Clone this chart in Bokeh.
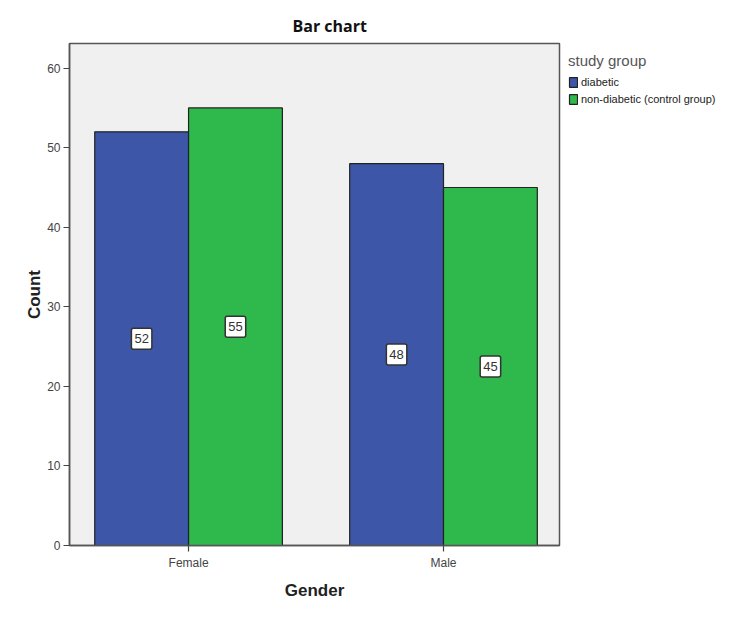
import pandas as pd
from bokeh.plotting import figure
from bokeh.models import ColumnDataSource, Range1d, FixedTicker, Legend, LegendItem
from bokeh.core.properties import value
from bokeh.embed import file_html
from bokeh.resources import INLINE

categories = ["Female", "Male"]
groups = ["diabetic", "non-diabetic (control group)"]
diabetic = [52, 48]
non_diabetic = [55, 45]
colors = ["#3d56a8", "#2fb84b"]
y_ticks = [0, 10, 20, 30, 40, 50, 60]

offset = 0.184
bar_w = 0.368

p = figure(frame_width=490, frame_height=502, output_backend="svg", toolbar_location=None,
           x_range=Range1d(-0.467, 1.455), y_range=Range1d(0, 63.1),
           min_border_left=69, min_border_right=10, min_border_top=43, min_border_bottom=60)
p.background_fill_color = "#f0f0f0"
p.border_fill_color = "white"
p.outline_line_color = "#555555"
p.outline_line_width = 1.5
p.grid.visible = False

p.title.text = "Bar chart"
p.title.align = "left"
p.title.text_font = "Open Sans"
p.title.text_font_style = "bold"
p.title.text_font_size = "16px"
p.title.text_color = "#111111"
p.title.offset = 223
p.title.standoff = 13

renderers = []
for k, (vals, col) in enumerate(zip([diabetic, non_diabetic], colors)):
    xs = [i + (offset if k == 1 else -offset) for i in range(len(categories))]
    src = ColumnDataSource(dict(x=xs, top=vals, mid=[v / 2 for v in vals], lbl=[str(v) for v in vals]))
    r = p.vbar(x="x", top="top", width=bar_w, source=src, fill_color=col,
               line_color="#222222", line_width=1.2)
    renderers.append(r)
    p.text(x="x", y="mid", text="lbl", source=src, text_align="center",
           text_baseline="middle", text_font=value("Liberation Sans"), text_font_size="13px",
           text_color="#333333", background_fill_color="white",
           border_line_color="#333333", border_line_width=1.5, padding=(3, 6), border_radius=2)

p.xaxis.ticker = FixedTicker(ticks=list(range(len(categories))))
p.xaxis.major_label_overrides = {i: c for i, c in enumerate(categories)}
p.yaxis.ticker = FixedTicker(ticks=y_ticks)
for ax in [p.xaxis, p.yaxis]:
    ax.axis_line_color = "#555555"
    ax.axis_line_width = 1.5
    ax.major_tick_line_color = "#444444"
    ax.major_tick_line_width = 1.2
    ax.major_tick_out = 6
    ax.major_tick_in = 0
    ax.minor_tick_line_color = None
    ax.major_label_text_font = "Liberation Sans"
    ax.major_label_text_font_size = "12px"
    ax.major_label_text_color = "#444444"
    ax.axis_label_text_font = "Liberation Sans"
    ax.axis_label_text_font_style = "bold"
    ax.axis_label_text_font_size = "17px"
    ax.axis_label_text_color = "#222222"
p.xaxis.axis_label = "Gender"
p.yaxis.axis_label = "Count"
p.yaxis.axis_label_standoff = 0
p.xaxis.axis_label_standoff = 8
p.xaxis.major_label_standoff = 4
p.yaxis.major_label_standoff = 3

legend = Legend(items=[LegendItem(label=g, renderers=[r]) for g, r in zip(groups, renderers)],
                location="top_left", title="study group")
legend.title_text_font = "Liberation Sans"
legend.title_text_font_size = "15px"
legend.title_text_font_style = "normal"
legend.title_text_color = "#555555"
legend.title_standoff = 6
legend.label_text_font = "Liberation Sans"
legend.label_text_font_size = "11px"
legend.label_text_color = "#222222"
legend.glyph_width = 10
legend.glyph_height = 12
legend.label_height = 14
legend.label_standoff = 3
legend.spacing = 3
legend.padding = 2
legend.margin = 9
legend.border_line_color = None
legend.background_fill_color = None
p.add_layout(legend, "right")

open("out.html", "w").write(file_html(p, INLINE))
